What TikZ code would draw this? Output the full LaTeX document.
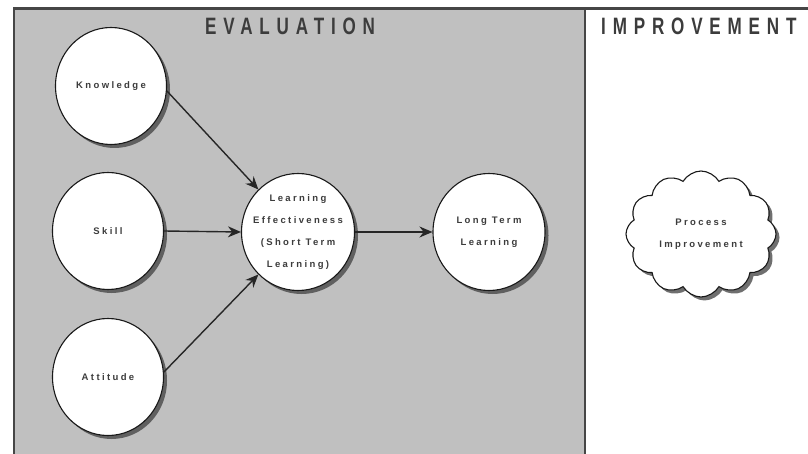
\documentclass[tikz,border=0pt]{standalone}
\usepackage{fontspec}
\setmainfont{Liberation Sans}
\newfontfamily\titlefont[LetterSpace=40]{Liberation Sans Bold}
\newfontfamily\nodefont[LetterSpace=25]{Liberation Sans Bold}
\usetikzlibrary{shapes.geometric,shapes.symbols,shadows,arrows.meta}
\definecolor{panelgray}{RGB}{192,192,192}
\definecolor{bordergray}{RGB}{70,70,70}
\definecolor{txt}{RGB}{60,60,60}
\newcommand{\cl}[1]{\makebox[0pt][c]{#1}}
\tikzset{
  shadowed/.style={drop shadow={shadow xshift=3.5pt,shadow yshift=-3.5pt,fill=black!75,opacity=0.75}},
  bubble/.style={ellipse,draw=black!90,line width=1.1pt,fill=white,shadowed,
    minimum width=111pt,minimum height=117pt,inner sep=0pt,align=center,
    text=txt,font=\nodefont\fontsize{9.5}{22}\selectfont},
  puff/.style={cloud,cloud puffs=12,cloud puff arc=120,cloud ignores aspect,draw=black!90,line width=1.1pt,fill=white,shadowed,
    minimum width=150pt,minimum height=126pt,inner sep=0pt,align=center,
    text=txt,font=\nodefont\fontsize{9.5}{22}\selectfont},
  flow/.style={-{Stealth[length=13pt,width=11pt]},line width=1.4pt,draw=black!85},
  paneltitle/.style={anchor=base west,inner sep=0pt,text=txt},
  border/.style={draw=bordergray,line width=2.4pt}
}
\begin{document}
\begin{tikzpicture}[x=1pt,y=-1pt]
\useasboundingbox (0,0) rectangle (808,454);
\fill[white] (0,0) rectangle (808,454);
\fill[panelgray] (14,8.5) rectangle (585,460);
\draw[border] (14,460) -- (14,8.5) -- (812,8.5);
\draw[border] (585,8.5) -- (585,460);
\node[paneltitle] (evt) at (205,35) {\scalebox{0.72}[1]{\titlefont\fontsize{23.7}{24}\selectfont EVALUATION}};
\node[paneltitle] (imt) at (601,35) {\scalebox{0.72}[1]{\titlefont\fontsize{23.7}{24}\selectfont IMPROVEMENT}};
\node[bubble] (K) at (111,86) {\cl{Knowledge}};
\node[bubble] (S) at (108,231) {\cl{Skill}};
\node[bubble] (A) at (108,377) {\cl{Attitude}};
\node[bubble,minimum width=113pt] (LE) at (298,232) {\cl{Learning}\\\cl{Effectiveness}\\\cl{(Short Term}\\\cl{Learning)}};
\node[bubble,minimum width=112pt] (LT) at (489,232) {\cl{Long Term}\\\cl{Learning}};
\node[puff] (PI) at (701,234) {\cl{Process}\\\cl{Improvement}};
\draw[flow] (K.-5) -- (LE.133);
\draw[flow] (S.east) -- (LE.west);
\draw[flow] (A.5) -- (LE.227);
\draw[flow] (LE.east) -- (LT.west);
\end{tikzpicture}
\end{document}
